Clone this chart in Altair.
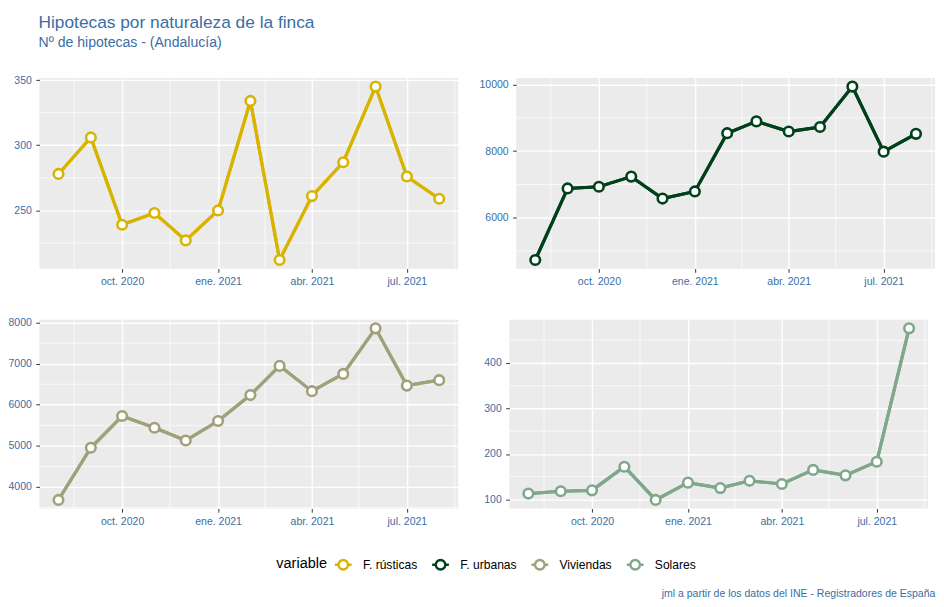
import altair as alt
import pandas as pd

# ---- data ----
months = ["2020-08-01T00:00:00", "2020-09-01T00:00:00", "2020-10-01T00:00:00",
          "2020-11-01T00:00:00", "2020-12-01T00:00:00", "2021-01-01T00:00:00",
          "2021-02-01T00:00:00", "2021-03-01T00:00:00", "2021-04-01T00:00:00",
          "2021-05-01T00:00:00", "2021-06-01T00:00:00", "2021-07-01T00:00:00",
          "2021-08-01T00:00:00"]
rusticas = [278, 306, 239, 248, 227, 250, 334, 212, 261, 287, 345, 276, 259]
urbanas = [4730, 6880, 6930, 7235, 6575, 6790, 8540, 8895, 8590, 8726, 9940, 7985, 8520]
viviendas = [3685, 4953, 5725, 5440, 5130, 5605, 6235, 6945, 6330, 6750, 7858, 6465, 6598]
solares = [113, 118, 120, 172, 99, 137, 125, 141, 134, 165, 153, 183, 476]

series = ["F. rústicas", "F. urbanas", "Viviendas", "Solares"]
colors = ["#D8B400", "#00401A", "#A0A07A", "#7FA88A"]
values = [rusticas, urbanas, viviendas, solares]

x_major = [(2020, 10), (2021, 1), (2021, 4), (2021, 7)]
x_minor = ["2020-08-16T00:00:00", "2020-11-16T00:00:00", "2021-02-15T00:00:00",
           "2021-05-16T00:00:00", "2021-08-16T00:00:00"]
y_major = {"F. rústicas": [250, 300, 350], "F. urbanas": [6000, 8000, 10000],
           "Viviendas": [4000, 5000, 6000, 7000, 8000], "Solares": [100, 200, 300, 400]}
y_minor = {"F. rústicas": [225, 275, 325], "F. urbanas": [5000, 7000, 9000],
           "Viviendas": [3500, 4500, 5500, 6500, 7500], "Solares": [150, 250, 350, 450]}

title_text = "Hipotecas por naturaleza de la finca"
subtitle_text = "Nº de hipotecas - (Andalucía)"
caption_text = "jml a partir de los datos del INE - Registradores de España"

rows = []
for name, vals in zip(series, values):
    for m, v in zip(months, vals):
        rows.append({"fecha": m, "variable": name, "valor": v})
df = pd.DataFrame(rows)

FONT = "Liberation Sans"
BLUE = "#3A6EA5"
PW = 426

color_scale = alt.Scale(domain=series, range=colors)
key_path = ("M-1,0L-0.57,0M0.57,0L1,0M0.57,0A0.57,0.57,0,1,1,-0.57,0"
            "A0.57,0.57,0,1,1,0.57,0Z")
legend = alt.Legend(orient="none", legendX=241, legendY=485, direction="horizontal",
                    title="variable", titleOrient="left", titleFontSize=14.7,
                    titleFontWeight="normal", titleColor="black", titleFont=FONT,
                    titlePadding=6, labelFontSize=12.3, labelColor="black", labelFont=FONT,
                    symbolType=key_path, symbolSize=289, symbolStrokeWidth=2.4,
                    symbolFillColor="white", labelOffset=10, columnPadding=9)

x_scale = alt.Scale(domain=[alt.DateTime(year=2020, month=7, date=13, hours=18),
                            alt.DateTime(year=2021, month=8, date=19, hours=6)])
month_expr = ("['ene.','feb.','mar.','abr.','may.','jun.','jul.','ago.','sept.','oct.','nov.','dic.']"
              "[month(datum.value)] + ' ' + year(datum.value)")
axis_common = dict(title=None, grid=True, gridColor="white", gridWidth=1.4,
                   tickColor="#333333", tickSize=3.7, tickWidth=1, domain=False,
                   labelColor=BLUE, labelFontSize=10.7, labelFont=FONT, labelPadding=4.5,
                   labelFlush=False)
x_axis = alt.Axis(values=[alt.DateTime(year=y, month=m, date=1) for y, m in x_major],
                  labelExpr=month_expr, minExtent=19, maxExtent=19, **axis_common)


def panel(name, h):
    d = df[df["variable"] == name]
    lo, hi = d["valor"].min(), d["valor"].max()
    pad = 0.05 * (hi - lo)
    y_scale = alt.Scale(domain=[lo - pad, hi + pad], nice=False, zero=False)
    y_axis = alt.Axis(values=y_major[name], format="d", minExtent=31, maxExtent=31,
                      **axis_common)
    enc = dict(x=alt.X("fecha:T", scale=x_scale, axis=x_axis),
               y=alt.Y("valor:Q", scale=y_scale, axis=y_axis),
               color=alt.Color("variable:N", scale=color_scale, legend=legend))
    line = alt.Chart(d).mark_line(strokeWidth=3.2).encode(**enc)
    pts = alt.Chart(d).mark_point(filled=False, fill="white", size=95, strokeWidth=2.6,
                                  opacity=1).encode(**enc)
    minor_y = alt.Chart(pd.DataFrame({"yv": y_minor[name]})).mark_rule(
        color="white", strokeWidth=0.7).encode(y=alt.Y("yv:Q", scale=y_scale, axis=y_axis))
    minor_x = alt.Chart(pd.DataFrame({"xv": x_minor})).mark_rule(
        color="white", strokeWidth=0.7).encode(x=alt.X("xv:T", scale=x_scale, axis=x_axis))
    return alt.layer(line, minor_y, minor_x, line, pts).properties(width=PW, height=h)


row1 = alt.hconcat(panel("F. rústicas", 194), panel("F. urbanas", 194), spacing=20)
row2 = alt.hconcat(panel("Viviendas", 192), panel("Solares", 192), spacing=20,
                   title=alt.Title(caption_text, orient="bottom", anchor="end",
                                   fontSize=10.7, font=FONT, color=BLUE,
                                   fontWeight="normal", offset=63, dx=7))
chart = alt.vconcat(row1, row2, spacing=29,
                    title=alt.Title(title_text, subtitle=subtitle_text, anchor="start",
                                    fontSize=17.6, subtitleFontSize=14.3, font=FONT,
                                    subtitleFont=FONT, color=BLUE, subtitleColor=BLUE,
                                    fontWeight="normal", dx=31, offset=24.5,
                                    subtitlePadding=5)
                    ).properties(padding={"left": 0, "top": 0, "right": 0, "bottom": 0},
                                 background="white").configure_view(
    fill="#EBEBEB", strokeWidth=0)

chart.save("out.html", embed_options={"renderer": "svg", "actions": False})
